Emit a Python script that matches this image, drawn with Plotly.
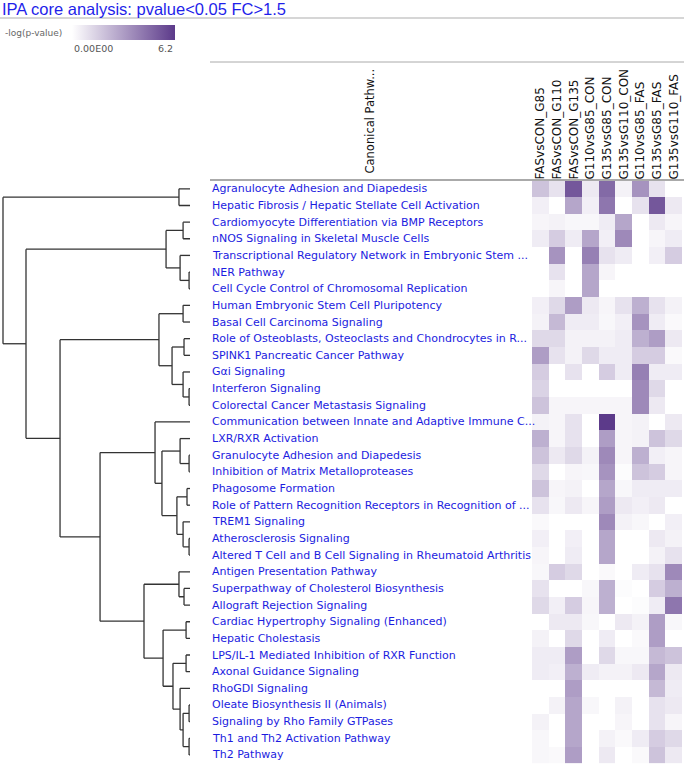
import plotly.graph_objects as go

W, H = 684, 765

title = "IPA core analysis: pvalue<0.05 FC>1.5"
legend_title = "-log(p-value)"
legend_min_label = "0.00E00"
legend_max_label = "6.2"
header_label = "Canonical Pathw..."

columns = ["FASvsCON_G85", "FASvsCON_G110", "FASvsCON_G135", "G110vsG85_CON",
           "G135vsG85_CON", "G135vsG110_CON", "G110vsG85_FAS", "G135vsG85_FAS",
           "G135vsG110_FAS"]

pathways = [
    "Agranulocyte Adhesion and Diapedesis",
    "Hepatic Fibrosis / Hepatic Stellate Cell Activation",
    "Cardiomyocyte Differentiation via BMP Receptors",
    "nNOS Signaling in Skeletal Muscle Cells",
    "Transcriptional Regulatory Network in Embryonic Stem ...",
    "NER Pathway",
    "Cell Cycle Control of Chromosomal Replication",
    "Human Embryonic Stem Cell Pluripotency",
    "Basal Cell Carcinoma Signaling",
    "Role of Osteoblasts, Osteoclasts and Chondrocytes in R...",
    "SPINK1 Pancreatic Cancer Pathway",
    "Gαi Signaling",
    "Interferon Signaling",
    "Colorectal Cancer Metastasis Signaling",
    "Communication between Innate and Adaptive Immune C...",
    "LXR/RXR Activation",
    "Granulocyte Adhesion and Diapedesis",
    "Inhibition of Matrix Metalloproteases",
    "Phagosome Formation",
    "Role of Pattern Recognition Receptors in Recognition of ...",
    "TREM1 Signaling",
    "Atherosclerosis Signaling",
    "Altered T Cell and B Cell Signaling in Rheumatoid Arthritis",
    "Antigen Presentation Pathway",
    "Superpathway of Cholesterol Biosynthesis",
    "Allograft Rejection Signaling",
    "Cardiac Hypertrophy Signaling (Enhanced)",
    "Hepatic Cholestasis",
    "LPS/IL-1 Mediated Inhibition of RXR Function",
    "Axonal Guidance Signaling",
    "RhoGDI Signaling",
    "Oleate Biosynthesis II (Animals)",
    "Signaling by Rho Family GTPases",
    "Th1 and Th2 Activation Pathway",
    "Th2 Pathway",
]

N = None
neg_log_p = [
    [1.9, 0.9, 5.3, 0.7, 4.7, 0.4, 3.4, 0.9, N],
    [0.5, N, 2.8, 0.5, 4.3, N, 0.9, 5.3, 0.7],
    [0.3, 0.4, 0.25, 0.25, 0.6, 2.8, N, 0.7, 0.3],
    [0.6, 1.6, 0.6, 2.8, 0.5, 3.7, N, 0.3, 0.6],
    [N, 3.4, N, 4.0, 0.9, 0.6, N, 0.5, 1.6],
    [N, 0.9, N, 2.8, 0.3, N, N, N, N],
    [N, 0.3, N, 2.8, N, N, N, N, N],
    [0.5, 1.2, 3.1, 0.7, 0.3, 0.9, 2.5, 0.9, 0.4],
    [0.4, 2.2, 0.6, 0.6, 0.25, 0.5, 3.4, 0.6, 0.2],
    [1.2, 1.2, 0.4, 0.4, 0.4, 0.6, 2.5, 3.1, 0.7],
    [3.1, 0.9, 0.4, 1.2, 0.6, 0.6, 1.6, 1.6, 0.2],
    [1.6, N, 0.9, N, 1.6, 0.6, 4.0, 0.6, 0.6],
    [1.4, N, N, N, N, N, 3.7, 1.2, N],
    [1.9, 0.3, 0.3, 0.3, 0.3, 0.3, 3.7, 0.7, N],
    [0.4, 0.3, 0.9, N, 6.2, 0.3, 0.4, N, 0.7],
    [2.5, 0.3, 0.9, N, 3.1, 0.3, 0.4, 1.9, 1.2],
    [1.9, 0.7, 1.2, 0.4, 3.7, 0.3, 2.5, 0.5, 0.3],
    [1.2, N, 0.3, 0.25, 3.4, 0.1, 1.9, 1.6, 0.3],
    [1.9, 0.3, 0.4, N, 2.8, 0.25, 0.6, 0.6, 0.6],
    [0.9, 0.25, 0.7, 0.3, 3.1, 0.7, 0.5, 0.7, N],
    [0.2, N, N, N, 3.7, 0.4, 0.25, N, 0.5],
    [0.5, N, 0.5, N, 2.8, N, N, 0.7, 0.4],
    [0.3, N, 0.6, N, 2.8, N, N, 0.4, 0.9],
    [0.25, 1.6, 1.2, N, 0.2, N, 0.6, 0.9, 3.7],
    [0.9, N, N, 0.25, 2.5, 0.1, N, 1.6, 2.5],
    [1.2, 0.5, 1.6, 0.3, 2.5, N, 0.1, 0.6, 4.3],
    [N, 0.7, 0.7, 0.25, N, 0.7, 0.4, 3.1, 0.25],
    [0.4, N, 1.2, N, 0.6, N, 0.2, 3.1, N],
    [0.6, 0.6, 3.1, N, 1.2, 0.25, 0.25, 2.2, 1.9],
    [0.6, 0.5, 2.5, 0.6, 0.4, 0.4, 0.7, 2.8, 0.7],
    [N, N, 3.1, N, N, N, N, 2.2, 0.6],
    [N, 0.4, 2.8, 0.25, N, 0.4, N, 0.9, 0.7],
    [0.4, N, 2.8, N, N, 0.3, N, 0.9, 0.3],
    [0.25, N, 2.8, N, 0.4, 0.2, 0.6, 1.6, 1.2],
    [0.25, 0.2, 3.1, N, 0.7, N, 0.2, 1.9, 0.7],
]

# hierarchical clustering tree: (left, right, merge distance); leaves are row indices
cluster_tree = (
    (0, 1, 0.059),
    (
        ((2, 3, 0.037), (4, (5, 6, 0.005), 0.053), 0.128),
        (
            ((7, 8, 0.037), ((9, 10, 0.032), (11, (12, 13, 0.005), 0.037), 0.096), 0.166),
            (
                (14,
                 ((15, (16, 17, 0.005), 0.053),
                  ((18, 19, 0.016), (20, (21, 22, 0.005), 0.037), 0.070), 0.150),
                 0.187),
                ((23, (24, 25, 0.032), 0.059),
                 ((26, 27, 0.021),
                  ((28, 29, 0.021),
                   (30, ((31, 32, 0.005), (33, 34, 0.005), 0.037), 0.053), 0.091),
                  0.144),
                 0.246),
                0.481),
            0.695),
        0.877),
    1.0,
)

dx, dy = [], []


def walk(node):
    if isinstance(node, int):
        return float(node), 0.0
    left, right, h = node
    yl, hl = walk(left)
    yr, hr = walk(right)
    dx.extend([hl, h, None, hr, h, None, h, h, None])
    dy.extend([yl, yl, None, yr, yr, None, yl, yr, None])
    return (yl + yr) / 2, h


walk(cluster_tree)


def px(x):
    return x / W


def py(y):
    return 1 - y / H


row_top, row_h = 180.5, 16.65
n_rows = len(pathways)
heat_bottom = row_top + n_rows * row_h

colorscale = [[0, "#ffffff"], [1, "rgb(92,58,138)"]]
label_blue = "#1c1ce0"

fig = go.Figure()
fig.add_trace(go.Scatter(
    x=dx, y=dy, mode="lines", xaxis="x", yaxis="y",
    line=dict(color="#333333", width=1.3), hoverinfo="skip", showlegend=False,
))
fig.add_trace(go.Heatmap(
    z=neg_log_p, x=columns, y=list(range(n_rows)), xaxis="x2", yaxis="y",
    colorscale=colorscale, zmin=0, zmax=6.2, xgap=0, ygap=0,
    colorbar=dict(
        orientation="h", x=px(72), xanchor="left", y=py(25), yanchor="top",
        len=103, lenmode="pixels", thickness=15, thicknessmode="pixels",
        outlinewidth=0, showticklabels=False, ticks="", xpad=0, ypad=0,
    ),
))

annotations = [
    dict(text=title, x=0, y=py(9), xref="paper", yref="paper", xanchor="left",
         yanchor="middle", showarrow=False,
         font=dict(family="Liberation Sans, Arial", size=16.5, color="#1f1fea")),
    dict(text=legend_title, x=px(3), y=py(33), xref="paper", yref="paper",
         xanchor="left", yanchor="middle", showarrow=False,
         font=dict(family="DejaVu Sans", size=9, color="#666666")),
    dict(text=legend_min_label, x=px(72), y=py(49), xref="paper", yref="paper",
         xanchor="left", yanchor="middle", showarrow=False,
         font=dict(family="DejaVu Sans", size=9.5, color="#555555")),
    dict(text=legend_max_label, x=px(175), y=py(49), xref="paper", yref="paper",
         xanchor="right", yanchor="middle", showarrow=False,
         font=dict(family="DejaVu Sans", size=9.5, color="#555555")),
    dict(text=header_label, x=px(370), y=py(176), xref="paper", yref="paper",
         xanchor="center", yanchor="bottom", textangle=-90, showarrow=False,
         font=dict(family="DejaVu Sans", size=11.5, color="#111111")),
]
for i, name in enumerate(pathways):
    annotations.append(dict(
        text=name, x=px(210), y=i, xref="paper", yref="y", xanchor="left",
        yanchor="middle", showarrow=False,
        font=dict(family="DejaVu Sans", size=11, color=label_blue)))

shapes = [
    dict(type="line", xref="paper", yref="paper", x0=0, x1=1, y0=py(18), y1=py(18),
         line=dict(color="#d6d6d6", width=2)),
    dict(type="line", xref="paper", yref="paper", x0=px(210), x1=1, y0=py(62), y1=py(62),
         line=dict(color="#aaaaaa", width=1)),
    dict(type="line", xref="paper", yref="paper", x0=px(210), x1=1, y0=py(180), y1=py(180),
         line=dict(color="#aaaaaa", width=2)),
]

fig.update_layout(
    width=W, height=H, margin=dict(l=0, r=0, t=0, b=0, autoexpand=False),
    paper_bgcolor="white", plot_bgcolor="white", showlegend=False,
    xaxis=dict(domain=[0, px(200)], range=[190 / 187, -10 / 187], visible=False,
               fixedrange=True),
    xaxis2=dict(domain=[px(532), px(682)], side="top", tickangle=-90, ticks="",
                showgrid=False, zeroline=False, showline=False, automargin=False,
                tickfont=dict(family="DejaVu Sans", size=12, color="#111111"),
                anchor="y"),
    yaxis=dict(domain=[py(heat_bottom), py(row_top)], range=[n_rows - 0.5, -0.5],
               visible=False),
    annotations=annotations, shapes=shapes,
)

fig.write_html(
    "out.html",
    config={"displayModeBar": False},
    post_script="document.body.style.margin='0';document.body.style.padding='0';",
)
